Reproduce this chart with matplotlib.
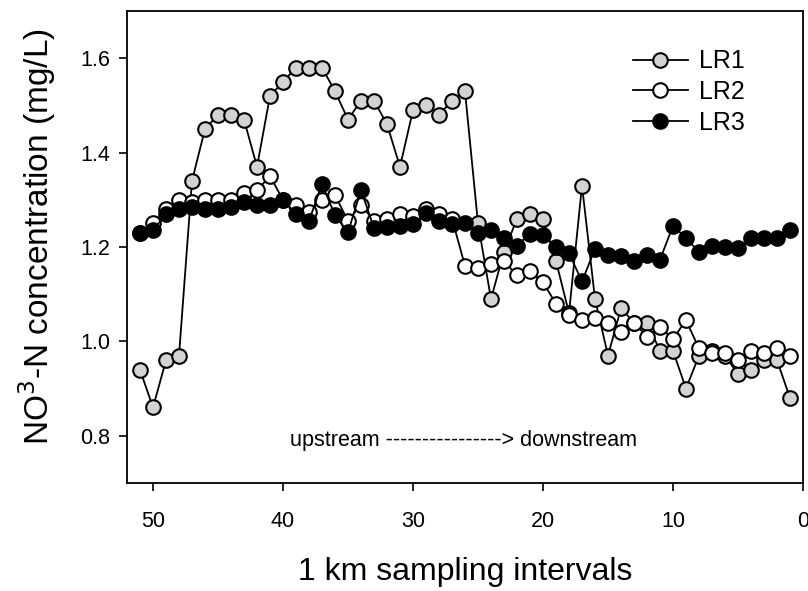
import matplotlib
matplotlib.use("Agg")
import matplotlib.pyplot as plt

plt.rcParams['font.family'] = ['Liberation Sans', 'DejaVu Sans']

km = list(range(51, 0, -1))

lr1 = [0.94, 0.86, 0.96, 0.97, 1.34, 1.45, 1.48, 1.48, 1.47, 1.37,
       1.52, 1.55, 1.58, 1.58, 1.58, 1.53, 1.47, 1.51, 1.51, 1.46,
       1.37, 1.49, 1.50, 1.48, 1.51, 1.53, 1.25, 1.09, 1.19, 1.26,
       1.27, 1.26, 1.17, 1.06, 1.33, 1.09, 0.97, 1.07, 1.04, 1.04,
       0.98, 0.98, 0.90, 0.97, 0.98, 0.97, 0.93, 0.94, 0.96, 0.96, 0.88]

lr2 = [1.23, 1.25, 1.28, 1.30, 1.295, 1.30, 1.30, 1.30, 1.315, 1.32,
       1.35, 1.30, 1.29, 1.275, 1.30, 1.31, 1.255, 1.29, 1.255, 1.26,
       1.27, 1.265, 1.28, 1.27, 1.26, 1.16, 1.155, 1.165, 1.17, 1.14,
       1.15, 1.125, 1.08, 1.055, 1.045, 1.05, 1.04, 1.02, 1.04, 1.01,
       1.03, 1.005, 1.045, 0.985, 0.975, 0.975, 0.96, 0.98, 0.975, 0.985, 0.97]

lr3 = [1.23, 1.235, 1.27, 1.28, 1.285, 1.28, 1.28, 1.285, 1.295, 1.288,
       1.29, 1.30, 1.27, 1.255, 1.334, 1.267, 1.231, 1.321, 1.24, 1.243,
       1.245, 1.249, 1.271, 1.255, 1.249, 1.25, 1.229, 1.235, 1.22, 1.203,
       1.228, 1.225, 1.20, 1.187, 1.127, 1.196, 1.183, 1.18, 1.171, 1.182,
       1.173, 1.245, 1.219, 1.189, 1.203, 1.20, 1.197, 1.219, 1.22, 1.22, 1.235]

series_names = ['LR1', 'LR2', 'LR3']
xticks = [50, 40, 30, 20, 10, 0]
yticks = [0.8, 1.0, 1.2, 1.4, 1.6]

fig = plt.figure(figsize=(8.08, 5.91), dpi=100)
ax = fig.add_axes([127/808, (591-483)/591, (803-127)/808, (483-11)/591])

ms = 10.5
mew = 1.5
lw = 1.3
ax.plot(km, lr1, '-o', color='black', lw=lw, marker='o', ms=ms,
        mfc='#d3d3d3', mec='black', mew=mew, label=series_names[0])
ax.plot(km, lr2, '-o', color='black', lw=lw, marker='o', ms=ms,
        mfc='white', mec='black', mew=mew, label=series_names[1])
ax.plot(km, lr3, '-o', color='black', lw=lw, marker='o', ms=ms,
        mfc='black', mec='black', mew=mew, label=series_names[2])

ax.set_xlim(52, 0)
ax.set_ylim(0.7, 1.7)
ax.set_xticks(xticks)
ax.set_yticks(yticks)
ax.set_yticklabels([f"{v:.1f}" for v in yticks])
ax.tick_params(direction='out', length=6, width=1.2, labelsize=15.5,
               top=False, right=False, pad=6)
ax.tick_params(axis='x', pad=14)
for s in ax.spines.values():
    s.set_linewidth(1.3)

ax.set_xlabel('1 km sampling intervals', fontsize=23, labelpad=18)
ax.set_ylabel('NO$^{3}$-N concentration (mg/L)', fontsize=24)
ax.yaxis.set_label_coords(-0.102, 0.523)

ax.text(26.1, 0.789, 'upstream ----------------> downstream',
        fontsize=15.5, ha='center', va='center')

leg = ax.legend(loc='upper left', bbox_to_anchor=(0.733, 0.94), frameon=False,
                fontsize=18, handlelength=2.2, handletextpad=0.45,
                labelspacing=0.27, borderaxespad=0, markerscale=1.0)

fig.savefig('out.png', dpi=100)
